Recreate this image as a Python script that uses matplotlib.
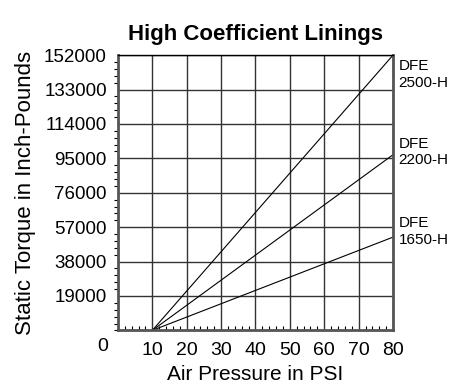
import matplotlib
matplotlib.use("Agg")
import matplotlib.pyplot as plt
from matplotlib.ticker import MultipleLocator

# data
pressure = [10, 80]
torque_2500 = [0, 152000]
torque_2200 = [0, 97000]
torque_1650 = [0, 51500]
labels = ["DFE\n2500-H", "DFE\n2200-H", "DFE\n1650-H"]
torques = [torque_2500, torque_2200, torque_1650]
label_shift = [-14, 2, 4]  # pixels, label block vs line end
x_ticks = [10, 20, 30, 40, 50, 60, 70, 80]
y_ticks = [19000, 38000, 57000, 76000, 95000, 114000, 133000, 152000]

plt.rcParams['font.family'] = ['Liberation Sans', 'DejaVu Sans']

fig = plt.figure(figsize=(4.57, 3.91), dpi=100)
ax = fig.add_axes([0.258, 0.155, 0.602, 0.704])

for label, t, dy in zip(labels, torques, label_shift):
    ax.plot(pressure, t, color="black", lw=0.8)
    ax.annotate(label, xy=(80, t[1]), xytext=(4, dy), textcoords="offset points",
                fontsize=11, va="center", ha="left", linespacing=1.2)

ax.set_xlim(0, 80)
ax.set_ylim(0, 152000)
ax.set_xticks(x_ticks)
ax.set_yticks(y_ticks)
ax.set_xticklabels([str(v) for v in x_ticks], fontsize=14)
ax.set_yticklabels([str(v) for v in y_ticks], fontsize=13.5)
ax.xaxis.set_minor_locator(MultipleLocator(2))
ax.yaxis.set_minor_locator(MultipleLocator(3800))
ax.tick_params(axis="x", which="major", length=0, pad=8)
ax.tick_params(axis="x", which="minor", direction="in", length=3, width=0.8)
ax.tick_params(axis="y", which="major", length=0, pad=8)
ax.tick_params(axis="y", which="minor", direction="out", length=3, width=0.8)
ax.grid(True, which="major", color="#333333", lw=1)

for s in ["bottom", "right", "left"]:
    ax.spines[s].set_color("#555555")
    ax.spines[s].set_linewidth(2)
ax.spines["top"].set_linewidth(1)

# shared origin label, sits on the x tick row left of the axis
ax.text(-0.055, -0.028, "0", transform=ax.transAxes, fontsize=14, ha="center", va="top")

ax.set_xlabel("Air Pressure in PSI", fontsize=15, labelpad=5)
ax.set_ylabel("Static Torque in Inch-Pounds", fontsize=16, labelpad=6)
ax.set_title("High Coefficient Linings", fontsize=16, fontweight="bold", pad=11)

fig.savefig("out.png", dpi=100)
